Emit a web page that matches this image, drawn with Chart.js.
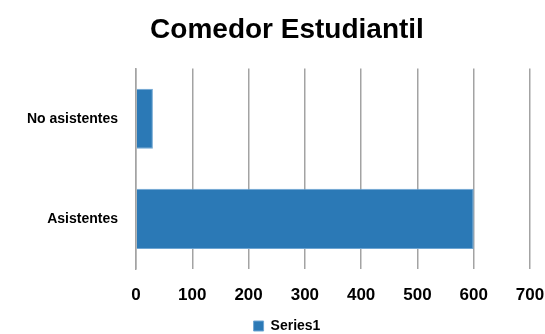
<!DOCTYPE html>
<html>
<head>
<meta charset="utf-8">
<script src="https://cdn.jsdelivr.net/npm/chart.js@4"></script>
<style>
html,body{margin:0;padding:0;background:#fff;overflow:hidden;}
#wrap{width:545px;height:343px;position:relative;}
</style>
</head>
<body>
<div id="wrap"><canvas id="c"></canvas></div>
<script>
const categories = ['No asistentes', 'Asistentes'];
const seriesName = 'Series1';
const values = [30, 600];
const xTicks = [0, 100, 200, 300, 400, 500, 600, 700];

const FONT = "'Liberation Sans', Arial, sans-serif";

new Chart(document.getElementById('c'), {
  type: 'bar',
  data: {
    labels: categories,
    datasets: [{
      label: seriesName,
      data: values,
      backgroundColor: '#2b79b6',
      borderColor: '#6fa6d3',
      borderWidth: 1,
      categoryPercentage: 1,
      barPercentage: 0.6
    }]
  },
  options: {
    indexAxis: 'y',
    responsive: true,
    maintainAspectRatio: false,
    animation: false,
    layout: { padding: { left: 29, right: 0, top: 0, bottom: 0 } },
    plugins: {
      title: {
        display: true,
        text: 'Comedor Estudiantil',
        color: '#000',
        font: { family: FONT, size: 28, weight: 'bold' },
        padding: { top: 13, bottom: 22 }
      },
      legend: {
        position: 'bottom',
        labels: {
          color: '#000',
          font: { family: FONT, size: 14, weight: 'bold' },
          boxWidth: 10,
          boxHeight: 10,
          padding: 6
        }
      },
      tooltip: { enabled: false }
    },
    scales: {
      x: {
        min: 0,
        max: 700,
        afterBuildTicks: (s) => { s.ticks = xTicks.map(v => ({ value: v })); },
        afterFit: (s) => { s.height = 44; s.paddingRight = 15; s.paddingLeft = 0; },
        grid: { color: '#a3a3a3', lineWidth: 1.5, drawTicks: false },
        border: { display: false },
        ticks: {
          color: '#000',
          padding: 16,
          maxRotation: 0,
          font: { family: FONT, size: 17, weight: 'bold' }
        }
      },
      y: {
        afterFit: (s) => { s.width = 107; s._computeLabelArea = () => undefined; },
        grid: { display: false },
        border: { display: true, color: '#a3a3a3', width: 1.5 },
        ticks: {
          color: '#000',
          padding: 10,
          font: { family: FONT, size: 14, weight: 'bold' }
        }
      }
    }
  }
});
</script>
</body>
</html>
